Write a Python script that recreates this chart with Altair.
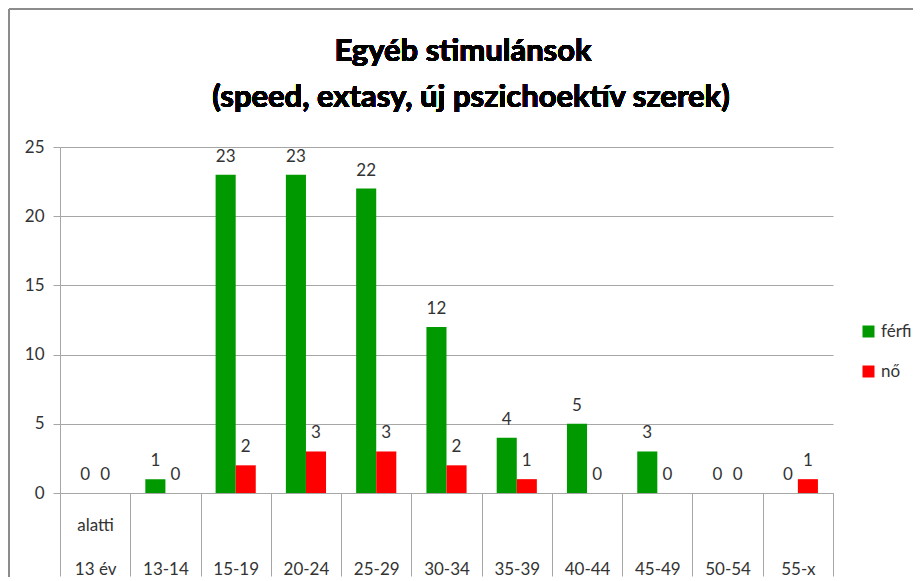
import altair as alt
import pandas as pd

categories = ["13 év alatti", "13-14", "15-19", "20-24", "25-29", "30-34",
              "35-39", "40-44", "45-49", "50-54", "55-x"]
ferfi = [0, 1, 23, 23, 22, 12, 4, 5, 3, 0, 0]
no = [0, 0, 2, 3, 3, 2, 1, 0, 0, 0, 1]
series = ["férfi", "nő"]
colors = ["#009900", "#ff0000"]
y_ticks = [0, 5, 10, 15, 20, 25]
title_lines = ["Egyéb stimulánsok", "(speed, extasy, új pszichoektív szerek)"]

rows = []
for c, f, n in zip(categories, ferfi, no):
    rows.append({"kat": c, "nem": series[0], "db": f})
    rows.append({"kat": c, "nem": series[1], "db": n})
df = pd.DataFrame(rows)

FONT = "Lato"
GRID = "#a6a6a6"
FS = 17

x_enc = alt.X(
    "kat:N", sort=categories, title=None,
    scale=alt.Scale(paddingInner=0, paddingOuter=0),
    axis=alt.Axis(
        labelAngle=0, tickBand="extent", tickSize=83, tickColor=GRID,
        domainColor=GRID, labelPadding=-59, labelFontSize=FS, labelFont=FONT,
        labelColor="#333333", labelLineHeight=44,
        labelExpr="datum.value == '13 év alatti' ? ['alatti', '13 év'] : ['', datum.value]",
    ),
)
xo_enc = alt.XOffset("nem:N", sort=series,
                     scale=alt.Scale(paddingInner=0, paddingOuter=0.75))
y_enc = alt.Y(
    "db:Q", title=None,
    scale=alt.Scale(domain=[0, 25], nice=False),
    axis=alt.Axis(values=y_ticks, gridColor=GRID, domainColor=GRID, tickColor=GRID,
                  tickSize=7, labelPadding=9, labelFontSize=FS, labelFont=FONT,
                  labelColor="#333333"),
)
color_enc = alt.Color(
    "nem:N", sort=series, title=None,
    scale=alt.Scale(domain=series, range=colors),
    legend=alt.Legend(orient="none", legendX=800, legendY=176, symbolType="square",
                      symbolSize=144, symbolStrokeWidth=0, labelFontSize=FS,
                      labelFont=FONT, labelColor="#333333", rowPadding=22,
                      labelOffset=4),
)

bars = alt.Chart(df).mark_bar(stroke=None).encode(
    x=x_enc, xOffset=xo_enc, y=y_enc, color=color_enc
)
labels = alt.Chart(df).mark_text(
    baseline="bottom", dy=-9, fontSize=FS, font=FONT, color="#333333"
).encode(x=x_enc, xOffset=xo_enc, y=y_enc, text="db:Q")

title1 = alt.Chart(df).mark_text(
    fontSize=31, font=FONT, fontWeight="bold", color="#000000",
    align="center", baseline="middle"
).encode(x=alt.value(403), y=alt.value(-95), text=alt.value(title_lines[0]))
title2 = alt.Chart(df).mark_text(
    fontSize=31, font=FONT, fontWeight="bold", color="#000000",
    align="center", baseline="middle"
).encode(x=alt.value(411), y=alt.value(-49), text=alt.value(title_lines[1]))

frame_left = alt.Chart(df).mark_rule(color="#8c8c8c", strokeWidth=2).encode(
    x=alt.value(-51), y=alt.value(-138), y2=alt.value(440)
)
frame_top = alt.Chart(df).mark_rule(color="#8c8c8c", strokeWidth=2).encode(
    x=alt.value(-51), x2=alt.value(870), y=alt.value(-138)
)

chart = alt.layer(bars, labels, title1, title2, frame_left, frame_top).properties(
    width=773, height=346,
    autosize=alt.AutoSizeParams(type="none"),
    padding={"left": 52, "top": 139, "right": 80, "bottom": 84},
).configure_view(stroke=None)

chart.save("out.html", embed_options={"renderer": "svg", "actions": False})
